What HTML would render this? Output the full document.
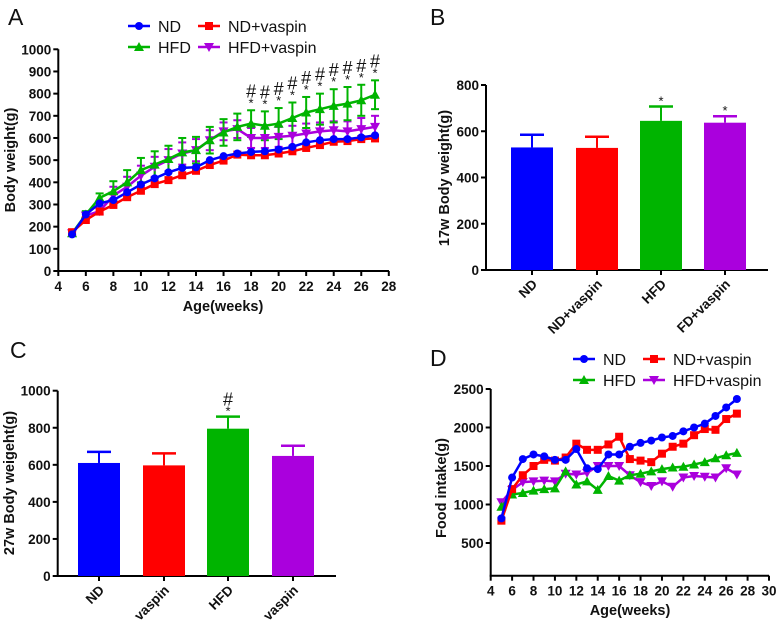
<!DOCTYPE html>
<html><head><meta charset="utf-8"><style>
html,body{margin:0;padding:0;background:#fff}
svg{display:block;font-family:"Liberation Sans",Arial,sans-serif}
.t{font-size:13.5px;font-weight:bold;fill:#111}
.ti{font-size:14.5px;font-weight:bold;fill:#111}
.lg{font-size:16px;fill:#111}
.pl{font-size:23px;fill:#111}
</style></head><body>
<svg id="fig" width="778" height="624" viewBox="0 0 778 624"></svg>
<script>
const weeks=[5,6,7,8,9,10,11,12,13,14,15,16,17,18,19,20,21,22,23,24,25,26,27];
const bwND=[165,255,305,320,355,390,418,445,465,468,500,518,530,537,540,548,560,580,590,595,595,603,612];
const bwNDv=[175,230,268,298,333,362,392,410,432,452,478,498,525,522,522,530,540,555,568,583,586,595,598];
const bwHFD=[170,255,330,360,400,455,480,505,535,545,590,625,650,665,655,665,690,715,730,745,755,770,795];
const bwHFDerr=[10,15,20,45,55,55,60,60,65,60,60,60,60,60,65,70,70,70,70,75,75,70,65];
const bwHFDv=[170,250,270,340,380,430,470,500,530,545,590,630,640,600,600,605,610,620,630,635,630,640,650];
const bwHFDverr=[10,15,15,40,45,45,45,50,50,50,45,40,40,45,45,45,45,45,40,40,45,50,50];
const sigWeeks=[18,19,20,21,22,23,24,25,26,27];
const fiND=[820,1350,1590,1650,1625,1580,1580,1720,1470,1460,1650,1650,1750,1800,1830,1870,1890,1950,2000,2050,2150,2260,2370];
const fiNDv=[790,1200,1380,1500,1580,1570,1610,1790,1710,1710,1780,1880,1590,1570,1550,1660,1750,1790,1900,1980,1970,2110,2180];
const fiHFD=[970,1130,1150,1180,1200,1210,1430,1260,1300,1190,1370,1310,1380,1400,1430,1460,1480,1490,1520,1550,1600,1640,1670];
const fiHFDv=[1030,1190,1290,1300,1310,1300,1400,1390,1410,1500,1500,1500,1380,1290,1240,1300,1230,1350,1370,1360,1350,1470,1390];
const groups=["ND","ND+vaspin","HFD","HFD+vaspin"];
const bLabels=["ND","ND+vaspin","HFD","FD+vaspin"];
const b17=[530,528,645,637];
const b17err=[55,48,62,28];
const cLabels=["ND","vaspin","HFD","vaspin"];
const c27=[610,597,795,648];
const c27err=[60,65,65,55];
const COL=["#0000ff","#ff0000","#00b400","#aa00dd"];
const svg=document.getElementById('fig');const NS='http://www.w3.org/2000/svg';
function el(tag,a,parent,txt){const e=document.createElementNS(NS,tag);for(const k in a)e.setAttribute(k,a[k]);if(txt!==undefined)e.textContent=txt;(parent||svg).appendChild(e);return e;}
function lin(d0,d1,r0,r1){return v=>r0+(v-d0)*(r1-r0)/(d1-d0);}
function marker(g,shape,x,y,c){
 let m;
 if(shape==0)m=el('circle',{cx:x,cy:y,r:4,fill:c},g);
 else if(shape==1)m=el('rect',{x:x-4,y:y-4,width:8,height:8,fill:c},g);
 else if(shape==2)m=el('polygon',{points:`${x},${y-5} ${x-5},${y+4} ${x+5},${y+4}`,fill:c},g);
 else m=el('polygon',{points:`${x},${y+5} ${x-5},${y-4} ${x+5},${y-4}`,fill:c},g);
 
 
}
function axes(g,x0,x1,y0,y1,sx,sy,xt,yt,xlab){
 el('line',{x1:x0,y1:y0,x2:x0,y2:y1,stroke:'#000','stroke-width':2},g);
 el('line',{x1:x0-1,y1:y0,x2:x1,y2:y0,stroke:'#000','stroke-width':2},g);
 yt.forEach(v=>{const y=sy(v);el('line',{x1:x0-5,y1:y,x2:x0,y2:y,stroke:'#000','stroke-width':2},g);
  el('text',{x:x0-7,y:y+5,'text-anchor':'end',class:'t',},g,v);});
 if(xt)xt.forEach(v=>{const x=sx(v);el('line',{x1:x,y1:y0,x2:x,y2:y0+5,stroke:'#000','stroke-width':2},g);
  if(xlab)el('text',{x:x,y:y0+20,'text-anchor':'middle',class:'t',},g,v);});
}
function legend(g,x,y){
 const pos=[[x,y],[x+70,y],[x,y+21],[x+70,y+21]];
 [0,1,2,3].forEach(i=>{const [lx,ly]=pos[i];const lg=el('g',{},g);
  el('line',{x1:lx,y1:ly,x2:lx+22,y2:ly,stroke:COL[i],'stroke-width':2.5},lg);marker(lg,i,lx+11,ly,COL[i]);
  el('text',{x:lx+30,y:ly+6,class:'lg'},lg,groups[i]);});
}
// Panel A
(function(){
 const g=el('g',{});
 el('text',{x:8,y:25,class:'pl',},g,'A');
 const sx=lin(4,28,58.3,388.8),sy=lin(0,1000,271,49.3);
 axes(g,58.3,389,271,49.3,sx,sy,[4,6,8,10,12,14,16,18,20,22,24,26,28],[0,100,200,300,400,500,600,700,800,900,1000],true);
 el('text',{x:223,y:311,'text-anchor':'middle',class:'ti',},g,'Age(weeks)');
 el('text',{x:0,y:0,transform:'translate(15,160) rotate(-90)','text-anchor':'middle',class:'ti',},g,'Body weight(g)');
 legend(g,128,26);
 const ser=[bwND,bwNDv,bwHFD,bwHFDv],errs=[null,null,bwHFDerr,bwHFDverr];
 [3,2].forEach(i=>{weeks.forEach((w,k)=>{const x=sx(w),e=errs[i][k];
  el('line',{x1:x,y1:sy(ser[i][k]-e),x2:x,y2:sy(ser[i][k]+e),stroke:COL[i],'stroke-width':2,},g);
  [sy(ser[i][k]-e),sy(ser[i][k]+e)].forEach(yy=>el('line',{x1:x-4,y1:yy,x2:x+4,y2:yy,stroke:COL[i],'stroke-width':2},g));});});
 [3,2,1,0].forEach(i=>{const s=el('g',{},g);
  el('polyline',{points:weeks.map((w,k)=>sx(w)+','+sy(ser[i][k])).join(' '),fill:'none',stroke:COL[i],'stroke-width':2.5},s);
  weeks.forEach((w,k)=>marker(s,i,sx(w),sy(ser[i][k]),COL[i]));});
 sigWeeks.forEach(w=>{const k=weeks.indexOf(w);const top=sy(bwHFD[k]+bwHFDerr[k]);
  el('text',{x:sx(w),y:top-3,'text-anchor':'middle','font-size':'13px',fill:'#111',},g,'*');
  el('text',{x:sx(w),y:top-13,'text-anchor':'middle','font-size':'18px',fill:'#111',},g,'#');});
})();
function barPanel(name,lab,lx,ly,x0,x1,y0,ytop,ymax,yt,labels,vals,errs,title,tcx,tcy,centers,marks){
 const g=el('g',{});
 el('text',{x:lx,y:ly,class:'pl',},g,lab);
 const sy=lin(0,ymax,y0,ytop);
 axes(g,x0,x1,y0,ytop,null,sy,null,yt,false);
 el('text',{x:0,y:0,transform:`translate(${tcx},${tcy}) rotate(-90)`,'text-anchor':'middle',class:'ti',},g,title);
 vals.forEach((v,i)=>{const cx=centers[i];
  el('line',{x1:cx,y1:sy(v),x2:cx,y2:sy(v+errs[i]),stroke:COL[i],'stroke-width':2,},g);
  el('line',{x1:cx-12,y1:sy(v+errs[i]),x2:cx+12,y2:sy(v+errs[i]),stroke:COL[i],'stroke-width':2.5},g);
  el('rect',{x:cx-21,y:sy(v),width:42,height:y0-sy(v),fill:COL[i],},g);
  el('line',{x1:cx,y1:y0,x2:cx,y2:y0+5,stroke:'#000','stroke-width':2},g);
  el('text',{x:0,y:0,transform:`translate(${cx+6},${y0+15}) rotate(-45)`,'text-anchor':'end',class:'t',},g,labels[i]);
  if(marks[i]){const top=sy(v+errs[i]);
   el('text',{x:cx,y:top-1,'text-anchor':'middle','font-size':'13px',fill:'#111',},g,'*');
   if(marks[i]==2)el('text',{x:cx,y:top-11,'text-anchor':'middle','font-size':'18px',fill:'#111',},g,'#');}
 });
}
barPanel('panel-b','B',430,25,486,768,270,85,800,[0,200,400,600,800],bLabels,b17,b17err,'17w Body weight(g)',449,178,[532,597,661,725],[0,0,1,1]);
barPanel('panel-c','C',10,358,57.7,336,576,390.7,1000,[0,200,400,600,800,1000],cLabels,c27,c27err,'27w Body weigeht(g)',14,483,[99,164,228,293],[0,0,2,0]);
// Panel D
(function(){
 const g=el('g',{});
 el('text',{x:430,y:366,class:'pl',},g,'D');
 const sx=lin(4,30,490.7,769),sy=lin(500,2500,543,389);
 axes(g,490.7,769,575.7,389,sx,sy,[4,6,8,10,12,14,16,18,20,22,24,26,28,30],[500,1000,1500,2000,2500],true);
 el('text',{x:630,y:615,'text-anchor':'middle',class:'ti',},g,'Age(weeks)');
 el('text',{x:0,y:0,transform:'translate(446,488) rotate(-90)','text-anchor':'middle',class:'ti',},g,'Food intake(g)');
 legend(g,573,359);
 const ser=[fiND,fiNDv,fiHFD,fiHFDv];
 [3,2,1,0].forEach(i=>{const s=el('g',{},g);
  el('polyline',{points:weeks.map((w,k)=>sx(w)+','+sy(ser[i][k])).join(' '),fill:'none',stroke:COL[i],'stroke-width':2.5},s);
  weeks.forEach((w,k)=>marker(s,i,sx(w),sy(ser[i][k]),COL[i]));});
})();
</script>
</body></html>
